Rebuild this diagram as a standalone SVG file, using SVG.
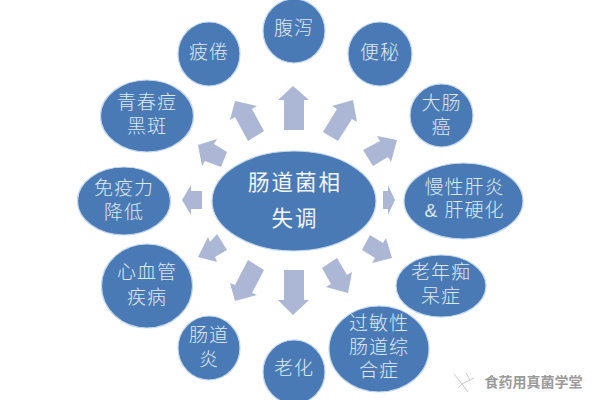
<svg xmlns="http://www.w3.org/2000/svg" width="600" height="400" viewBox="0 0 600 400">
<style>
.n{fill:#4a7ab6;stroke:#c4d8ec;stroke-width:1.2}
.a{fill:#abb7d5}
text{font-family:"Liberation Sans","Noto Sans CJK SC",sans-serif;text-anchor:middle}
.t{font-size:19px;letter-spacing:1px;fill:#dfe9f0;font-weight:300}
.c{font-size:21.500px;letter-spacing:2px;fill:#f2f6f8;font-weight:400}
.w{font-size:14px;fill:#9a9a9a;font-weight:700}
.i{fill:none;stroke:#cccccc;stroke-width:1}
</style>
<rect width="600" height="400" fill="#ffffff"/>
<g id="connectors">
<polygon class="a" points="284,130 304,130 304,100 309,100 293,86 278,100 284,100"/>
<polygon class="a" points="248,141 264,131 252,109 257,106 235,101 230,120 235,117"/>
<polygon class="a" points="221,167 227,152 214,144 217,139 198,145 202,166 205,161"/>
<polygon class="a" points="202,191 202,209 191,209 191,215 182,200 191,185 191,191"/>
<polygon class="a" points="217,234 227,250 215,257 217,262 198,257 208,237 210,242"/>
<polygon class="a" points="248,260 264,270 252,293 257,295 235,301 230,283 235,285"/>
<polygon class="a" points="284,270 304,270 304,300 309,300 293,315 278,300 284,300"/>
<polygon class="a" points="337,258 322,268 331,284 326,287 348,293 352,272 347,275"/>
<polygon class="a" points="370,235 362,250 375,258 372,263 392,258 386,238 383,243"/>
<polygon class="a" points="383,191 383,209 388,209 388,215 395,200 388,185 388,191"/>
<polygon class="a" points="363,150 373,166 388,157 391,162 397,140 377,136 380,141"/>
<polygon class="a" points="323,132 338,141 352,119 357,122 353,100 332,106 337,109"/>
</g>
<g id="center"><ellipse class="n" cx="294" cy="201" rx="82" ry="50"/><text class="c" x="295" y="190">肠道菌相<tspan x="295" dy="36">失调</tspan></text></g>
<g id="n1"><ellipse class="n" cx="294" cy="31" rx="31" ry="32"/><text class="t" x="294" y="35">腹泻</text></g>
<g id="n2"><ellipse class="n" cx="380" cy="54" rx="32" ry="32"/><text class="t" x="380" y="59">便秘</text></g>
<g id="n3"><ellipse class="n" cx="441.500" cy="115.500" rx="31.500" ry="31.500"/><text class="t" x="441.500" y="110">大肠<tspan x="441.500" dy="24">癌</tspan></text></g>
<g id="n4"><ellipse class="n" cx="463.500" cy="201" rx="59.500" ry="38"/><text class="t" x="464.500" y="194">慢性肝炎<tspan x="464.500" dy="23">&amp; 肝硬化</tspan></text></g>
<g id="n5"><ellipse class="n" cx="441" cy="286" rx="45" ry="31"/><text class="t" x="441" y="279">老年痴<tspan x="441" dy="24">呆症</tspan></text></g>
<g id="n6"><ellipse class="n" cx="379" cy="349" rx="50" ry="43"/><text class="t" x="379" y="330">过敏性<tspan x="379" dy="24">肠道综</tspan><tspan x="379" dy="23">合症</tspan></text></g>
<g id="n7"><ellipse class="n" cx="294" cy="372" rx="31" ry="32"/><text class="t" x="294" y="375">老化</text></g>
<g id="n8"><ellipse class="n" cx="209" cy="348" rx="31" ry="32"/><text class="t" x="209" y="342">肠道<tspan x="209" dy="24">炎</tspan></text></g>
<g id="n9"><ellipse class="n" cx="147" cy="286" rx="45.500" ry="42"/><text class="t" x="147" y="279">心血管<tspan x="147" dy="25">疾病</tspan></text></g>
<g id="n10"><ellipse class="n" cx="124" cy="201" rx="46.500" ry="34"/><text class="t" x="124" y="195">免疫力<tspan x="124" dy="24">降低</tspan></text></g>
<g id="n11"><ellipse class="n" cx="147" cy="116" rx="46.500" ry="36"/><text class="t" x="147" y="109">青春痘<tspan x="147" dy="24">黑斑</tspan></text></g>
<g id="n12"><ellipse class="n" cx="209" cy="54" rx="31" ry="32"/><text class="t" x="209" y="59">疲倦</text></g>
<g id="watermark"><path class="i" d="M454,374 L462,384 L474,378 M462,384 L468,392 M458,388 L462,384 M466,373 L470,380"/><text class="w" x="533.500" y="387">食药用真菌学堂</text></g>
</svg>
